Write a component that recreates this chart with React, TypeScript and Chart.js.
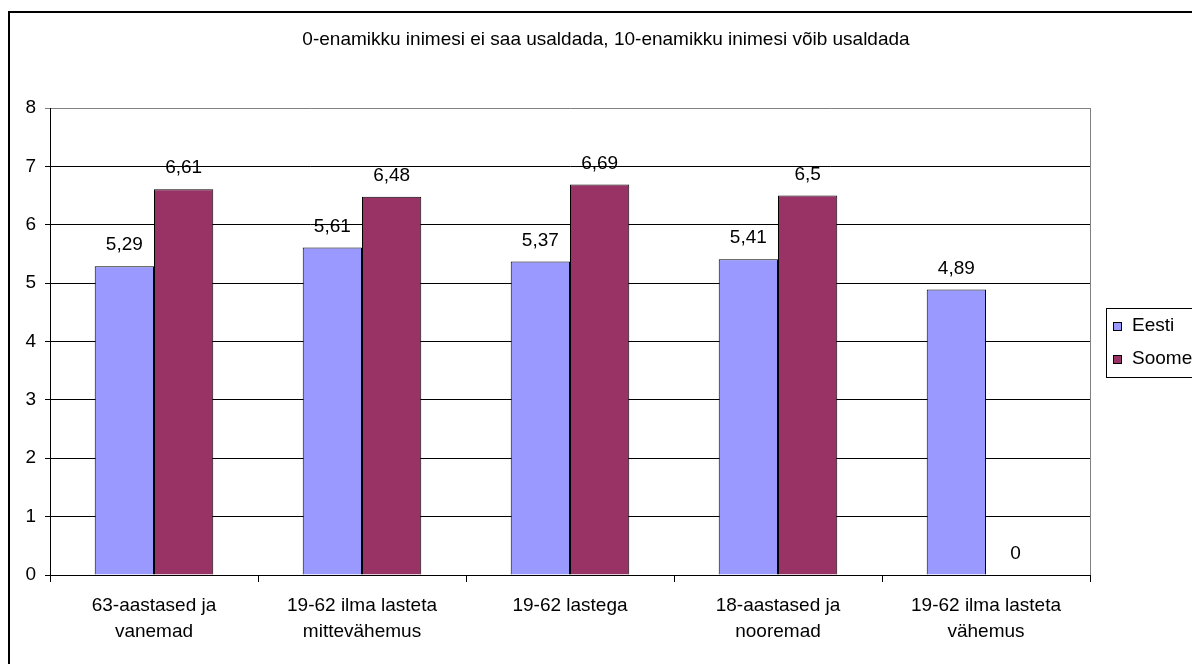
import React, { useEffect, useRef } from "react";
import { Chart, registerables } from "chart.js";

Chart.register(...registerables);

const TITLE = "0-enamikku inimesi ei saa usaldada, 10-enamikku inimesi võib usaldada";
const CATEGORIES: (string | string[])[] = [
  ["63-aastased ja", "vanemad"],
  ["19-62 ilma lasteta", "mittevähemus"],
  "19-62 lastega",
  ["18-aastased ja", "nooremad"],
  ["19-62 ilma lasteta", "vähemus"],
];
const EESTI = [5.29, 5.61, 5.37, 5.41, 4.89];
const SOOME = [6.61, 6.48, 6.69, 6.5, 0];
const SERIES_NAMES = ["Eesti", "Soome"];
const SERIES_COLORS = ["#9999FF", "#993366"];
const Y_MIN = 0;
const Y_MAX = 8;
const Y_STEP = 1;

const FONT_FAMILY = "'Liberation Sans', Arial, sans-serif";
const FONT_SIZE = 19;

const fmt = (v: number) => String(v).replace(".", ",");

const decorPlugin = {
  id: "decor",
  afterDraw(chart: any) {
    const { ctx, chartArea } = chart;
    ctx.save();
    // outer border
    ctx.strokeStyle = "#000";
    ctx.lineWidth = 2;
    ctx.strokeRect(1, 4, 1300, 800);
    // plot area right border
    ctx.strokeStyle = "#808080";
    ctx.lineWidth = 1;
    ctx.beginPath();
    ctx.moveTo(Math.round(chartArea.right) + 0.5, chartArea.top);
    ctx.lineTo(Math.round(chartArea.right) + 0.5, chartArea.bottom);
    ctx.stroke();
    // title
    ctx.fillStyle = "#000";
    ctx.font = `${FONT_SIZE}px ${FONT_FAMILY}`;
    ctx.textAlign = "center";
    ctx.textBaseline = "middle";
    ctx.fillText(TITLE, 598, 32);
    // value labels
    chart.data.datasets.forEach((ds: any, di: number) => {
      const meta = chart.getDatasetMeta(di);
      meta.data.forEach((bar: any, i: number) => {
        ctx.fillText(fmt(ds.data[i]), bar.x, bar.y - 21);
      });
    });
    // legend
    const lx = 1098, ly = 300, lh = 69;
    ctx.strokeStyle = "#000";
    ctx.lineWidth = 1;
    ctx.strokeRect(lx + 0.5, ly + 0.5, 200, lh);
    ctx.textAlign = "left";
    chart.data.datasets.forEach((ds: any, di: number) => {
      const cy = ly + 18 + di * 33;
      ctx.fillStyle = ds.backgroundColor;
      ctx.fillRect(lx + 7, cy - 4, 9, 9);
      ctx.strokeStyle = "#000";
      ctx.strokeRect(lx + 7.5, cy - 3.5, 8, 8);
      ctx.fillStyle = "#000";
      ctx.fillText(ds.label, lx + 26, cy);
    });
    ctx.restore();
  },
};

export default function App() {
  const ref = useRef<HTMLCanvasElement>(null);
  useEffect(() => {
    if (!ref.current) return;
    const chart = new Chart(ref.current, {
      type: "bar",
      data: {
        labels: CATEGORIES,
        datasets: [EESTI, SOOME].map((d, i) => ({
          label: SERIES_NAMES[i],
          data: d,
          backgroundColor: SERIES_COLORS[i],
          borderColor: "#000",
          borderWidth: (c: any) => (c.raw === 0 ? 0 : 1),
          barPercentage: 1,
          categoryPercentage: 0.57,
        })),
      },
      options: {
        responsive: false,
        animation: false,
        devicePixelRatio: 1,
        layout: { padding: { top: 100, right: 102, left: 0, bottom: 0 } },
        plugins: { legend: { display: false }, title: { display: false }, tooltip: { enabled: false } },
        scales: {
          x: {
            afterFit: (s: any) => { s.height = 89; },
            grid: { drawOnChartArea: false, drawTicks: true, tickLength: 7, color: "#000", offset: true },
            border: { color: "#000" },
            ticks: {
              color: "#000",
              padding: 10,
              maxRotation: 0,
              autoSkip: false,
              font: { family: FONT_FAMILY, size: FONT_SIZE, lineHeight: 1.4 },
            },
          },
          y: {
            min: Y_MIN,
            max: Y_MAX,
            afterFit: (s: any) => { s.width = 42; },
            grid: {
              color: (c: any) => (c.tick && c.tick.value === Y_MAX ? "#808080" : "#000"),
              tickLength: 5,
            },
            border: { color: "#000" },
            ticks: {
              stepSize: Y_STEP,
              color: "#000",
              padding: 9,
              font: { family: FONT_FAMILY, size: FONT_SIZE },
            },
          },
        },
      },
      plugins: [decorPlugin],
    });
    return () => chart.destroy();
  }, []);
  return (
    <div style={{ position: "fixed", left: 8, top: 8, width: 1184, height: 656, background: "#fff" }}>
      <canvas ref={ref} width={1184} height={656} style={{ display: "block", width: 1184, height: 656 }} />
    </div>
  );
}
